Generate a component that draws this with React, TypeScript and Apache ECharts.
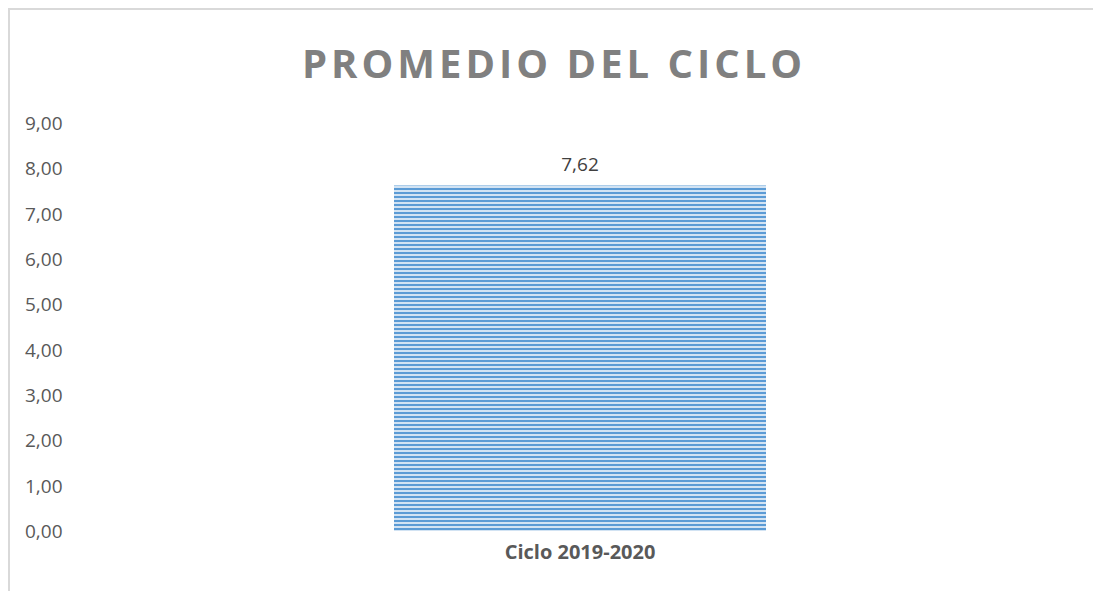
import React, { useEffect, useRef } from "react";
import * as echarts from "echarts";

const title = "PROMEDIO DEL CICLO";
const categories = ["Ciclo 2019-2020"];
const values = [7.62];
const yTicks = [0, 1, 2, 3, 4, 5, 6, 7, 8, 9];

const fmt = (v: number) => v.toFixed(2).replace(".", ",");

const CHART_W = 1098;
const CHART_H = 600;

export default function App() {
  const ref = useRef<HTMLDivElement>(null);
  useEffect(() => {
    document.documentElement.style.overflow = "hidden";
    const chart = echarts.init(ref.current!, null, { renderer: "svg" });
    chart.setOption({
      animation: false,
      backgroundColor: "#ffffff",
      textStyle: { fontFamily: "'Open Sans', sans-serif" },
      title: {
        text: title,
        left: 287,
        top: 27,
        textStyle: {
          fontFamily: "'Open Sans', sans-serif",
          fontSize: 40,
          fontWeight: "bold",
          color: "#808080",
        },
      },
      grid: { left: 90, right: CHART_W - 1050, top: 113, bottom: CHART_H - 521 },
      xAxis: {
        type: "category",
        data: categories,
        axisLine: { show: false },
        axisTick: { show: false },
        axisLabel: {
          color: "#595959",
          fontSize: 20,
          fontWeight: "bold",
          margin: 10,
        },
      },
      yAxis: {
        type: "value",
        min: yTicks[0],
        max: yTicks[yTicks.length - 1],
        interval: 1,
        splitLine: { show: false },
        axisLine: { show: false },
        axisTick: { show: false },
        axisLabel: {
          color: "#595959",
          fontSize: 19,
          align: "left",
          margin: 75,
          formatter: (v: number) => fmt(v),
        },
      },
      series: [
        {
          type: "bar",
          data: values,
          barWidth: 372,
          itemStyle: {
            color: "#5b9bd5",
            decal: {
              symbol: "rect",
              symbolSize: 1,
              color: "#d2e3f3",
              dashArrayX: [1, 0],
              dashArrayY: [2, 2],
              rotation: 0,
            },
          },
          label: {
            show: true,
            position: "top",
            distance: 12,
            color: "#404040",
            fontSize: 19,
            formatter: (p: any) => fmt(p.value),
          },
        },
      ],
    });
    const texts = ref.current!.querySelectorAll("text");
    texts.forEach((t) => {
      if (t.textContent === title) {
        (t as SVGTextElement).style.letterSpacing = "4px";
      }
    });
    return () => chart.dispose();
  }, []);
  return (
    <div
      style={{
        position: "fixed",
        left: 8,
        top: 8,
        width: CHART_W + 2,
        height: CHART_H + 2,
        borderTop: "2px solid #d9d9d9",
        borderLeft: "2px solid #d9d9d9",
        boxSizing: "border-box",
      }}
    >
      <div ref={ref} style={{ width: CHART_W, height: CHART_H }} />
    </div>
  );
}
